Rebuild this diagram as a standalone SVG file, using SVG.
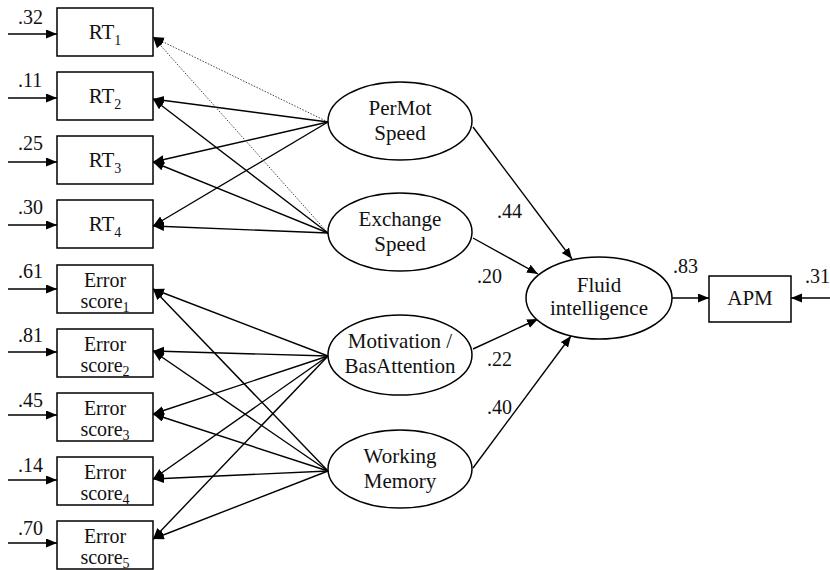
<svg xmlns="http://www.w3.org/2000/svg" width="830" height="570" viewBox="0 0 830 570">
<defs>
<style>
.box{fill:#fff;stroke:#000;stroke-width:1.5}
.ell{fill:#fff;stroke:#000;stroke-width:1.5}
text{font-family:"Liberation Serif","Tinos","Times New Roman","DejaVu Serif",serif;font-size:21px;fill:#111}
.lab{font-size:20px}
.e{font-size:20px}
.m{text-anchor:middle}
.sub{font-size:14px}
.c{stroke:#000;stroke-width:1.4;fill:none;marker-end:url(#ah)}
.d{stroke:#444;stroke-width:1;stroke-dasharray:1.5 1.5;fill:none;marker-end:url(#ah)}
</style>
<marker id="ah" markerWidth="12" markerHeight="10" refX="11" refY="4.5" orient="auto" markerUnits="userSpaceOnUse"><path d="M0,0 L11,4.5 L0,9 z" fill="#000"/></marker>
</defs>

<g id="connectors">
<line class="c" x1="8" y1="34" x2="57" y2="34"/>
<line class="c" x1="8" y1="98" x2="57" y2="98"/>
<line class="c" x1="8" y1="162" x2="57" y2="162"/>
<line class="c" x1="8" y1="225" x2="57" y2="225"/>
<line class="c" x1="8" y1="289" x2="57" y2="289"/>
<line class="c" x1="8" y1="352" x2="57" y2="352"/>
<line class="c" x1="8" y1="415" x2="57" y2="415"/>
<line class="c" x1="8" y1="480" x2="57" y2="480"/>
<line class="c" x1="8" y1="543" x2="57" y2="543"/>
<line class="c" x1="830" y1="298" x2="791" y2="298"/>
<line class="d" x1="328" y1="122" x2="153" y2="37"/>
<line class="c" x1="328" y1="122" x2="153" y2="99"/>
<line class="c" x1="328" y1="122" x2="153" y2="162"/>
<line class="c" x1="328" y1="122" x2="153" y2="226"/>
<line class="d" x1="328" y1="233" x2="153" y2="37"/>
<line class="c" x1="328" y1="233" x2="153" y2="99"/>
<line class="c" x1="328" y1="233" x2="153" y2="162"/>
<line class="c" x1="328" y1="233" x2="153" y2="226"/>
<line class="c" x1="328" y1="356" x2="153" y2="289"/>
<line class="c" x1="328" y1="356" x2="153" y2="351"/>
<line class="c" x1="328" y1="356" x2="153" y2="414"/>
<line class="c" x1="328" y1="356" x2="153" y2="479"/>
<line class="c" x1="328" y1="356" x2="153" y2="539"/>
<line class="c" x1="328" y1="471" x2="153" y2="289"/>
<line class="c" x1="328" y1="471" x2="153" y2="351"/>
<line class="c" x1="328" y1="471" x2="153" y2="414"/>
<line class="c" x1="328" y1="471" x2="153" y2="479"/>
<line class="c" x1="328" y1="471" x2="153" y2="539"/>
<line class="c" x1="473" y1="127" x2="572" y2="259"/>
<line class="c" x1="473" y1="238" x2="538" y2="274"/>
<line class="c" x1="473" y1="349" x2="538" y2="319"/>
<line class="c" x1="473" y1="468" x2="571" y2="336"/>
<line class="c" x1="672" y1="298" x2="709" y2="298"/>
</g>

<g id="labels">
<text class="lab" x="18" y="24">.32</text>
<text class="lab" x="18" y="87">.11</text>
<text class="lab" x="18" y="150">.25</text>
<text class="lab" x="18" y="214">.30</text>
<text class="lab" x="18" y="278">.61</text>
<text class="lab" x="18" y="342">.81</text>
<text class="lab" x="18" y="407">.45</text>
<text class="lab" x="18" y="472">.14</text>
<text class="lab" x="18" y="535">.70</text>
<text class="lab" x="497" y="218">.44</text>
<text class="lab" x="477" y="283">.20</text>
<text class="lab" x="487" y="366">.22</text>
<text class="lab" x="487" y="414">.40</text>
<text class="lab" x="673" y="273">.83</text>
<text class="lab" x="805" y="283">.31</text>
</g>

<g id="RT1"><rect class="box" x="57" y="8" width="96" height="48"/><text class="m" x="105" y="39">RT<tspan class="sub" dy="6">1</tspan></text></g>
<g id="RT2"><rect class="box" x="57" y="72" width="96" height="48"/><text class="m" x="105" y="103">RT<tspan class="sub" dy="6">2</tspan></text></g>
<g id="RT3"><rect class="box" x="57" y="136" width="96" height="48"/><text class="m" x="105" y="167">RT<tspan class="sub" dy="6">3</tspan></text></g>
<g id="RT4"><rect class="box" x="57" y="200" width="96" height="48"/><text class="m" x="105" y="231">RT<tspan class="sub" dy="6">4</tspan></text></g>

<g id="Error1"><rect class="box" x="57" y="265" width="96" height="48"/><text class="m e" x="105" y="287">Error</text><text class="m e" x="105" y="308">score<tspan class="sub" dy="4">1</tspan></text></g>
<g id="Error2"><rect class="box" x="57" y="329" width="96" height="48"/><text class="m e" x="105" y="351">Error</text><text class="m e" x="105" y="372">score<tspan class="sub" dy="4">2</tspan></text></g>
<g id="Error3"><rect class="box" x="57" y="393" width="96" height="48"/><text class="m e" x="105" y="415">Error</text><text class="m e" x="105" y="436">score<tspan class="sub" dy="4">3</tspan></text></g>
<g id="Error4"><rect class="box" x="57" y="457" width="96" height="48"/><text class="m e" x="105" y="479">Error</text><text class="m e" x="105" y="500">score<tspan class="sub" dy="4">4</tspan></text></g>
<g id="Error5"><rect class="box" x="57" y="521" width="96" height="48"/><text class="m e" x="105" y="543">Error</text><text class="m e" x="105" y="564">score<tspan class="sub" dy="4">5</tspan></text></g>

<g id="PerMotSpeed"><ellipse class="ell" cx="400" cy="121" rx="72" ry="39"/><text class="m" x="400" y="115">PerMot</text><text class="m" x="400" y="140">Speed</text></g>
<g id="ExchangeSpeed"><ellipse class="ell" cx="400" cy="232" rx="72" ry="39"/><text class="m" x="400" y="226">Exchange</text><text class="m" x="400" y="251">Speed</text></g>
<g id="Motivation"><ellipse class="ell" cx="400" cy="355" rx="72" ry="40"/><text class="m" x="400" y="348">Motivation /</text><text class="m" x="400" y="373">BasAttention</text></g>
<g id="WorkingMemory"><ellipse class="ell" cx="400" cy="469" rx="72" ry="39"/><text class="m" x="400" y="463">Working</text><text class="m" x="400" y="488">Memory</text></g>
<g id="FluidIntelligence"><ellipse class="ell" cx="599" cy="298" rx="73" ry="41"/><text class="m" x="599" y="292">Fluid</text><text class="m" x="599" y="315">intelligence</text></g>
<g id="APM"><rect class="box" x="709" y="276" width="82" height="46"/><text class="m" x="750" y="305">APM</text></g>
</svg>
